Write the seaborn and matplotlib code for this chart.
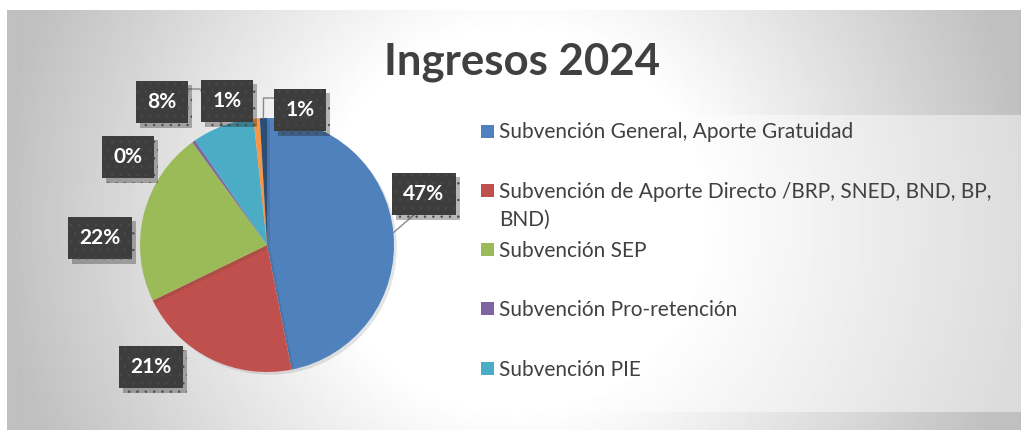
import textwrap

import numpy as np
import matplotlib
matplotlib.use("Agg")
import matplotlib.pyplot as plt
import matplotlib.patheffects as pe
from matplotlib.patches import Rectangle
import seaborn as sns

# === DATOS ===

categorias = [
    "Subvención General, Aporte Gratuidad",
    "Subvención de Aporte Directo /BRP, SNED, BND, BP, BND)",
    "Subvención SEP",
    "Subvención Pro-retención",
    "Subvención PIE",
    "Otros ingresos",
    "Otros aportes",
]
porcentajes = [46.9, 20.9, 22.2, 0.4, 7.9, 0.8, 0.9]
colores = ["#4F81BD", "#C0504D", "#9BBB59", "#8064A2", "#4BACC6", "#F79646", "#2C4D75"]
titulo = "Ingresos 2024"
n_leyenda = 5  # la leyenda original solo muestra las cinco primeras

# === DISPOSICION (pixeles, origen abajo a la izquierda) ===

ANCHO, ALTO = 1021, 430
CENTRO = (267, 185)
RADIO = 127
pos_etiquetas = [(424, 236), (151, 63), (100, 192), (128, 273),
                 (162, 328), (227, 329), (300, 320)]
# puntos de quiebre de las lineas guia (desde el borde del sector hasta la etiqueta)
guias = {
    0: [(415, 216)],
    4: [(200, 341), (187, 341)],
    6: [(263.5, 332), (275, 332)],
}
GRIS_TEXTO = "#404040"


def fondo_degradado(ax):
    h, w = 420, ANCHO - 7
    yy, xx = np.mgrid[0:h, 0:w]
    r = np.hypot(xx - w / 2, yy - h / 2)
    v = 1 - 0.25 * np.clip((r - 190) / 330, 0, 1)
    ax.imshow(v, cmap="gray", vmin=0, vmax=1, extent=(7, ANCHO, 0, 420),
              zorder=0, interpolation="bilinear")


def dibujar_torta(ax):
    wedges, _ = ax.pie(porcentajes, colors=colores, startangle=90, counterclock=False,
                       center=CENTRO, radius=RADIO, frame=True,
                       wedgeprops=dict(linewidth=0))
    for w in wedges:
        w.set_zorder(3)
        w.set_path_effects([pe.SimplePatchShadow(offset=(2, -2), alpha=0.12), pe.Normal()])
    return wedges


def dibujar_etiquetas(ax, wedges):
    total = sum(porcentajes)
    for i, (p, (x, y)) in enumerate(zip(porcentajes, pos_etiquetas)):
        t = ax.text(x, y, f"{p / total * 100:.0f}%", ha="center", va="center",
                    fontsize=15, fontweight="bold", color="white", zorder=6,
                    bbox=dict(boxstyle="square,pad=0.55", fc="#3d3d3d", ec="#4a4a4a",
                              lw=0, hatch=".."))
        t.get_bbox_patch().set_path_effects(
            [pe.SimplePatchShadow(offset=(3, -3), alpha=0.3), pe.Normal()])
        if i in guias:
            w = wedges[i]
            ang = np.deg2rad((w.theta1 + w.theta2) / 2)
            px = CENTRO[0] + RADIO * np.cos(ang)
            py = CENTRO[1] + RADIO * np.sin(ang)
            xs = [px] + [q[0] for q in guias[i]]
            ys = [py] + [q[1] for q in guias[i]]
            ax.plot(xs, ys, color="#8a8a8a", lw=1, zorder=4)


def dibujar_leyenda(ax):
    ax.add_patch(Rectangle((467, 18), ANCHO - 467, 297, facecolor="white",
                           alpha=0.45, lw=0, zorder=1))
    for i in range(n_leyenda):
        y = 299 - i * 59.25
        ax.add_patch(Rectangle((481, y - 6.5), 13, 13, color=colores[i], lw=0, zorder=2))
        for j, linea in enumerate(textwrap.wrap(categorias[i], 50)):
            ax.text(499, y - 7.5 - j * 28, linea, va="baseline", ha="left",
                    fontsize=15, color=GRIS_TEXTO, zorder=2)


def main():
    sns.set_theme(style="white")
    plt.rcParams["font.family"] = ["Lato", "DejaVu Sans"]
    plt.rcParams["hatch.linewidth"] = 0.5

    fig = plt.figure(figsize=(ANCHO / 100, ALTO / 100), dpi=100)
    fig.patch.set_facecolor("white")
    ax = fig.add_axes([0, 0, 1, 1])

    fondo_degradado(ax)
    wedges = dibujar_torta(ax)
    dibujar_etiquetas(ax, wedges)
    dibujar_leyenda(ax)

    ax.text(522, 355, titulo, ha="center", va="baseline", fontsize=31.5,
            fontweight="bold", color=GRIS_TEXTO)

    ax.set_xlim(0, ANCHO)
    ax.set_ylim(0, ALTO)
    ax.set_aspect("auto")
    ax.axis("off")
    fig.savefig("out.png", dpi=100)


if __name__ == "__main__":
    main()
